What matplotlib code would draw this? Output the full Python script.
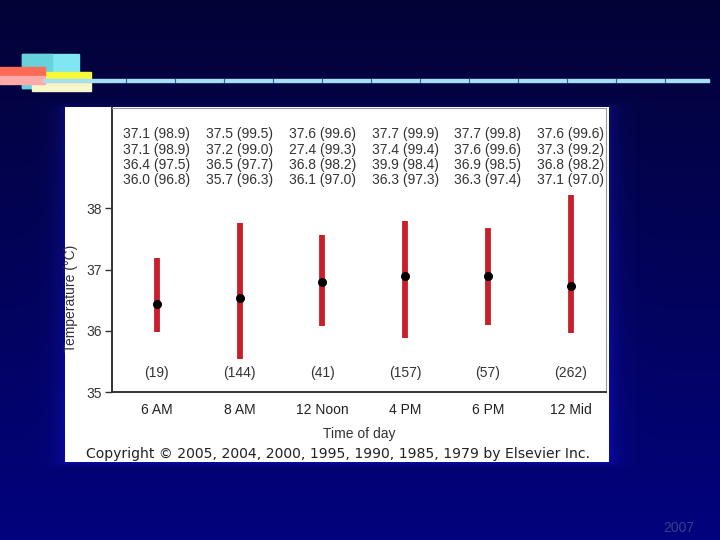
import numpy as np
import matplotlib
matplotlib.use("Agg")
import matplotlib.pyplot as plt
from matplotlib.patches import Rectangle

# data
times = ["6 AM", "8 AM", "12 Noon", "4 PM", "6 PM", "12 Mid"]
means = [36.44, 36.53, 36.79, 36.89, 36.90, 36.74]
range_lo = [35.98, 35.54, 36.08, 35.88, 36.09, 35.97]
range_hi = [37.19, 37.76, 37.57, 37.80, 37.68, 38.22]
counts = [19, 144, 41, 157, 57, 262]
table = [
    ["37.1 (98.9)", "37.1 (98.9)", "36.4 (97.5)", "36.0 (96.8)"],
    ["37.5 (99.5)", "37.2 (99.0)", "36.5 (97.7)", "35.7 (96.3)"],
    ["37.6 (99.6)", "27.4 (99.3)", "36.8 (98.2)", "36.1 (97.0)"],
    ["37.7 (99.9)", "37.4 (99.4)", "39.9 (98.4)", "36.3 (97.3)"],
    ["37.7 (99.8)", "37.6 (99.6)", "36.9 (98.5)", "36.3 (97.4)"],
    ["37.6 (99.6)", "37.3 (99.2)", "36.8 (98.2)", "37.1 (97.0)"],
]

plt.rcParams['font.family'] = ['Liberation Sans', 'DejaVu Sans']

W, H = 720, 540
fig = plt.figure(figsize=(W / 100, H / 100), dpi=100)

# slide background (pixel coordinates)
bg = fig.add_axes([0, 0, 1, 1])
bg.set_xlim(0, W)
bg.set_ylim(H, 0)
bg.axis('off')

yy, xx = np.mgrid[0:H, 0:W]
t = yy / H
img = np.zeros((H, W, 3))
img[..., 0] = 0.01
img[..., 1] = 0.01
img[..., 2] = (55 + 70 * t) / 255
# faint blue glow on the panel sides
px0, px1, py0, py1 = 65, 609, 107, 462
dx = np.maximum(np.maximum(px0 - xx, xx - px1), 0)
dy = np.maximum(np.maximum(py0 - yy, yy - py1), 0)
d = np.sqrt(dx ** 2 + (dy * 4) ** 2)
g = np.exp(-d / 9.0) * 0.3
img[..., 0] += g * 0.1
img[..., 1] += g * 0.1
img[..., 2] += g * 0.6
bg.imshow(np.clip(img, 0, 1), extent=(0, W, H, 0), aspect='auto', zorder=0)

# top-left decoration squares
bg.add_patch(Rectangle((22, 54), 57, 34, color='#7fe6f2', zorder=1))
bg.add_patch(Rectangle((22, 54), 30, 34, color='#66d2dc', zorder=1))
bg.add_patch(Rectangle((32, 79), 59, 12, color='#f6f6c8', zorder=2))
bg.add_patch(Rectangle((45, 72), 46, 10, color='#f8f83a', zorder=2))
bg.add_patch(Rectangle((0, 67), 45, 9, color='#ff6a55', zorder=3))
bg.add_patch(Rectangle((0, 76), 45, 8, color='#ffaaa8', zorder=3))

# dashed rule
bg.add_patch(Rectangle((43, 79), 666, 3.2, color='#a6def6', zorder=4))
for gx in np.arange(126, 700, 49):
    bg.plot([gx, gx], [79, 82.2], color='#3a5a9a', lw=0.8, zorder=5)

# white panel
panel = Rectangle((px0, py0), px1 - px0, py1 - py0, facecolor='white',
                  edgecolor='none', zorder=6)
bg.add_patch(panel)

ylab = bg.text(70.5, 298, "Temperature (\u00b0C)", rotation=90, ha='center',
               va='center', fontsize=10, color='#333333', zorder=7)
ylab.set_clip_path(panel)

bg.text(338, 454, "Copyright \u00a9 2005, 2004, 2000, 1995, 1990, 1985, 1979 by Elsevier Inc.",
        ha='center', va='center', fontsize=10.1, color='#222222',
        family='DejaVu Sans', zorder=7)

bg.text(679, 528, "2007", ha='center', va='center', fontsize=10,
        color='#34418a', zorder=7)

# chart
ax = fig.add_axes([112 / W, 1 - 392 / H, 494 / W, 284.5 / H])
ax.set_facecolor('white')
x = np.arange(len(times))
ax.vlines(x, range_lo, range_hi, color='#c8202a', lw=4.2, zorder=2)
ax.plot(x, means, 'o', color='black', ms=5.5, zorder=3)

ax.set_xlim(-0.54, 5.426)
ax.set_ylim(35, 39.65)
ax.set_yticks([35, 36, 37, 38])
ax.set_xticks(x)
ax.set_xticklabels(times)
ax.tick_params(axis='y', length=5, width=1, color='#333333', labelsize=10,
               labelcolor='#333333', pad=2)
ax.tick_params(axis='x', length=0, labelsize=10, labelcolor='#222222', pad=8)
ax.set_xlabel("Time of day", fontsize=10, color='#333333', labelpad=7)

for s in ['left', 'bottom']:
    ax.spines[s].set_color('#333333')
    ax.spines[s].set_linewidth(1.4)
for s in ['top', 'right']:
    ax.spines[s].set_color('#999999')
    ax.spines[s].set_linewidth(0.8)

row_y = [39.21, 38.96, 38.71, 38.46]
for i, col in enumerate(table):
    for j, s in enumerate(col):
        ax.text(x[i], row_y[j], s, ha='center', va='center', fontsize=10,
                color='#333333')
    ax.text(x[i], 35.31, f"({counts[i]})", ha='center', va='center',
            fontsize=10, color='#333333')

fig.savefig("out.png", dpi=100)
